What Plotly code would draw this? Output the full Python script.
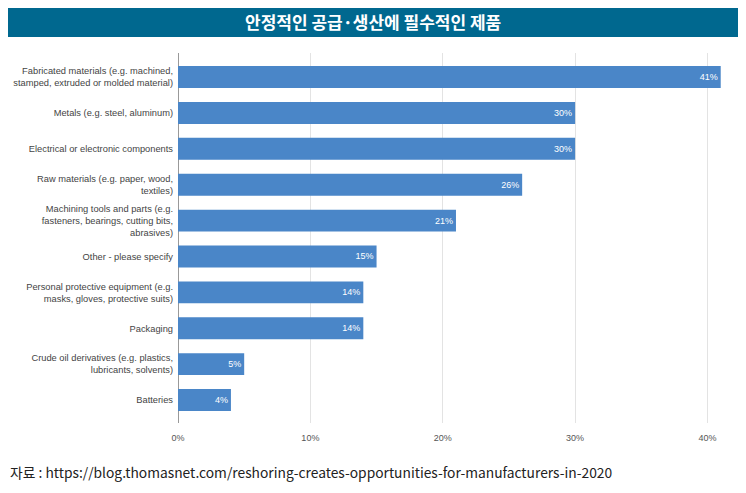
import plotly.graph_objects as go

# categories top to bottom, values in percent
categories = [
    "Fabricated materials (e.g. machined,<br>stamped, extruded or molded material)",
    "Metals (e.g. steel, aluminum)",
    "Electrical or electronic components",
    "Raw materials (e.g. paper, wood,<br>textiles)",
    "Machining tools and parts (e.g.<br>fasteners, bearings, cutting bits,<br>abrasives)",
    "Other - please specify",
    "Personal protective equipment (e.g.<br>masks, gloves, protective suits)",
    "Packaging",
    "Crude oil derivatives (e.g. plastics,<br>lubricants, solvents)",
    "Batteries",
]
values = [41, 30, 30, 26, 21, 15, 14, 14, 5, 4]
tick_vals = [0, 10, 20, 30, 40]
tick_text = ["0%", "10%", "20%", "30%", "40%"]

title = "안정적인 공급·생산에 필수적인 제품"
source = "자료 : https://blog.thomasnet.com/reshoring-creates-opportunities-for-manufacturers-in-2020"

# page sits inside an 8px body margin
PW, PH = 550, 370
LEFT, TOP = 178, 53

fig = go.Figure()
fig.add_trace(go.Bar(
    x=values, y=categories, orientation="h",
    marker=dict(color="#4a86c8", line=dict(width=0)),
    text=[f"{v}%" for v in values], textposition="inside",
    insidetextanchor="end",
    textfont=dict(color="white", size=9, family="Arial"),
    width=0.61,
))

fig.update_layout(
    width=738, height=485,
    margin=dict(l=170, r=18, t=45, b=70, autoexpand=False),
    paper_bgcolor="white", plot_bgcolor="white",
    showlegend=False,
    font=dict(family="Arial", size=9.3, color="#444444"),
    shapes=[dict(type="rect", xref="paper", yref="paper",
                 x0=(7 - LEFT) / PW, x1=(738 - LEFT) / PW,
                 y0=1 + (TOP - 37) / PH, y1=1 + (TOP - 5) / PH,
                 fillcolor="#00688f", line=dict(width=0))],
    annotations=[
        dict(text="<b>" + title + "</b>", xref="paper", yref="paper",
             x=(373 - LEFT) / PW, y=1 + (TOP - 21) / PH,
             xanchor="center", yanchor="middle", showarrow=False,
             font=dict(family="Noto Sans CJK KR", size=17, color="white")),
        dict(text=source, xref="paper", yref="paper",
             x=(8 - LEFT) / PW, y=-(472 - TOP - PH) / PH,
             xanchor="left", yanchor="middle", showarrow=False,
             font=dict(family="Noto Sans CJK KR", size=13.8, color="#222222")),
    ],
)
fig.update_xaxes(range=[0, 41.55], tickvals=tick_vals, ticktext=tick_text,
                 showgrid=True, gridcolor="#e3e3e3", zeroline=True,
                 zerolinecolor="#999999", zerolinewidth=1,
                 tickfont=dict(size=9, color="#555555"),
                 ticks="outside", ticklen=6, tickcolor="rgba(0,0,0,0)",
                 automargin=False)
fig.update_yaxes(autorange=False, range=[9.64, -0.67], showgrid=False,
                 ticks="", ticklabelstandoff=4, automargin=False,
                 tickfont=dict(size=9.3, color="#444444"))

fig.write_html("out.html")
